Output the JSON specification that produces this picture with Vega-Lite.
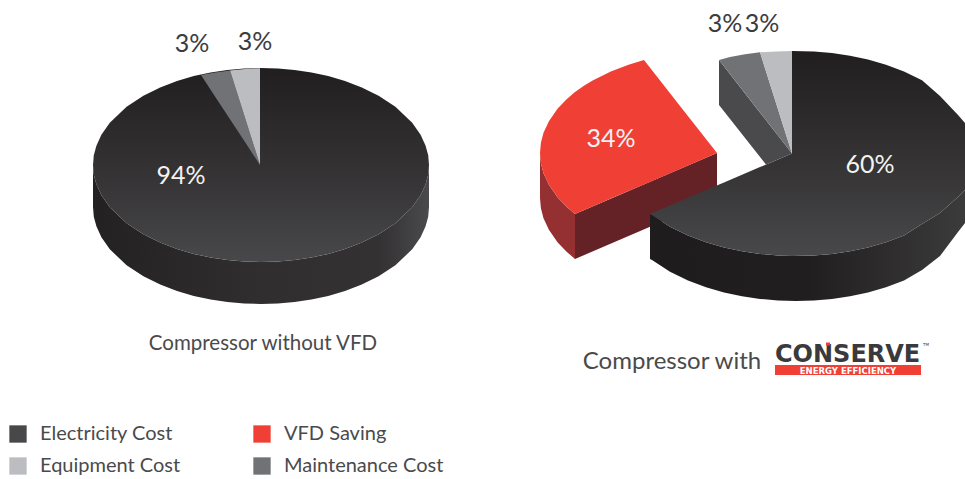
{
"$schema":"https://vega.github.io/schema/vega-lite/v6.json",
"width":965,"height":479,"padding":0,"autosize":{"type":"none"},
"background":"white","view":{"stroke":null},
"datasets":{
"outline":[
{"chart":"Without VFD","part":"top","series":"Electricity Cost","x":93,"y":165,"y2":165},{"chart":"Without VFD","part":"top","series":"Electricity Cost","x":93.8,"y":155.3,"y2":174.7},{"chart":"Without VFD","part":"top","series":"Electricity Cost","x":96.4,"y":145.7,"y2":184.3},{"chart":"Without VFD","part":"top","series":"Electricity Cost","x":101.4,"y":134.7,"y2":195.3},{"chart":"Without VFD","part":"top","series":"Electricity Cost","x":109.8,"y":122.7,"y2":207.3},{"chart":"Without VFD","part":"top","series":"Electricity Cost","x":126.6,"y":106.8,"y2":223.2},{"chart":"Without VFD","part":"top","series":"Electricity Cost","x":143.4,"y":95.7,"y2":234.3},{"chart":"Without VFD","part":"top","series":"Electricity Cost","x":160.2,"y":87.4,"y2":242.6},{"chart":"Without VFD","part":"top","series":"Electricity Cost","x":177,"y":81,"y2":249},{"chart":"Without VFD","part":"top","series":"Electricity Cost","x":193.8,"y":76.1,"y2":253.9},{"chart":"Without VFD","part":"top","series":"Electricity Cost","x":210.6,"y":72.5,"y2":257.5},{"chart":"Without VFD","part":"top","series":"Electricity Cost","x":227.4,"y":70,"y2":260},{"chart":"Without VFD","part":"top","series":"Electricity Cost","x":244.2,"y":68.5,"y2":261.5},{"chart":"Without VFD","part":"top","series":"Electricity Cost","x":261,"y":68,"y2":262},{"chart":"Without VFD","part":"top","series":"Electricity Cost","x":277.8,"y":68.5,"y2":261.5},{"chart":"Without VFD","part":"top","series":"Electricity Cost","x":294.6,"y":70,"y2":260},{"chart":"Without VFD","part":"top","series":"Electricity Cost","x":311.4,"y":72.5,"y2":257.5},{"chart":"Without VFD","part":"top","series":"Electricity Cost","x":328.2,"y":76.1,"y2":253.9},{"chart":"Without VFD","part":"top","series":"Electricity Cost","x":345,"y":81,"y2":249},{"chart":"Without VFD","part":"top","series":"Electricity Cost","x":361.8,"y":87.4,"y2":242.6},{"chart":"Without VFD","part":"top","series":"Electricity Cost","x":378.6,"y":95.7,"y2":234.3},{"chart":"Without VFD","part":"top","series":"Electricity Cost","x":395.4,"y":106.8,"y2":223.2},{"chart":"Without VFD","part":"top","series":"Electricity Cost","x":412.2,"y":122.7,"y2":207.3},{"chart":"Without VFD","part":"top","series":"Electricity Cost","x":420.6,"y":134.7,"y2":195.3},{"chart":"Without VFD","part":"top","series":"Electricity Cost","x":425.6,"y":145.7,"y2":184.3},{"chart":"Without VFD","part":"top","series":"Electricity Cost","x":428.2,"y":155.3,"y2":174.7},{"chart":"Without VFD","part":"top","series":"Electricity Cost","x":429,"y":165,"y2":165},
{"chart":"Without VFD","part":"side","series":"Electricity Cost","x":93,"y":165,"y2":207},{"chart":"Without VFD","part":"side","series":"Electricity Cost","x":93.8,"y":174.7,"y2":216.7},{"chart":"Without VFD","part":"side","series":"Electricity Cost","x":96.4,"y":184.3,"y2":226.3},{"chart":"Without VFD","part":"side","series":"Electricity Cost","x":101.4,"y":195.3,"y2":237.3},{"chart":"Without VFD","part":"side","series":"Electricity Cost","x":109.8,"y":207.3,"y2":249.3},{"chart":"Without VFD","part":"side","series":"Electricity Cost","x":126.6,"y":223.2,"y2":265.2},{"chart":"Without VFD","part":"side","series":"Electricity Cost","x":143.4,"y":234.3,"y2":276.3},{"chart":"Without VFD","part":"side","series":"Electricity Cost","x":160.2,"y":242.6,"y2":284.6},{"chart":"Without VFD","part":"side","series":"Electricity Cost","x":177,"y":249,"y2":291},{"chart":"Without VFD","part":"side","series":"Electricity Cost","x":193.8,"y":253.9,"y2":295.9},{"chart":"Without VFD","part":"side","series":"Electricity Cost","x":210.6,"y":257.5,"y2":299.5},{"chart":"Without VFD","part":"side","series":"Electricity Cost","x":227.4,"y":260,"y2":302},{"chart":"Without VFD","part":"side","series":"Electricity Cost","x":244.2,"y":261.5,"y2":303.5},{"chart":"Without VFD","part":"side","series":"Electricity Cost","x":261,"y":262,"y2":304},{"chart":"Without VFD","part":"side","series":"Electricity Cost","x":277.8,"y":261.5,"y2":303.5},{"chart":"Without VFD","part":"side","series":"Electricity Cost","x":294.6,"y":260,"y2":302},{"chart":"Without VFD","part":"side","series":"Electricity Cost","x":311.4,"y":257.5,"y2":299.5},{"chart":"Without VFD","part":"side","series":"Electricity Cost","x":328.2,"y":253.9,"y2":295.9},{"chart":"Without VFD","part":"side","series":"Electricity Cost","x":345,"y":249,"y2":291},{"chart":"Without VFD","part":"side","series":"Electricity Cost","x":361.8,"y":242.6,"y2":284.6},{"chart":"Without VFD","part":"side","series":"Electricity Cost","x":378.6,"y":234.3,"y2":276.3},{"chart":"Without VFD","part":"side","series":"Electricity Cost","x":395.4,"y":223.2,"y2":265.2},{"chart":"Without VFD","part":"side","series":"Electricity Cost","x":412.2,"y":207.3,"y2":249.3},{"chart":"Without VFD","part":"side","series":"Electricity Cost","x":420.6,"y":195.3,"y2":237.3},{"chart":"Without VFD","part":"side","series":"Electricity Cost","x":425.6,"y":184.3,"y2":226.3},{"chart":"Without VFD","part":"side","series":"Electricity Cost","x":428.2,"y":174.7,"y2":216.7},{"chart":"Without VFD","part":"side","series":"Electricity Cost","x":429,"y":165,"y2":207},
{"chart":"Without VFD","part":"wedge","series":"Maintenance Cost","x":201,"y":75,"y2":75},{"chart":"Without VFD","part":"wedge","series":"Maintenance Cost","x":215,"y":72.5,"y2":96.4},{"chart":"Without VFD","part":"wedge","series":"Maintenance Cost","x":230,"y":70.5,"y2":119.3},{"chart":"Without VFD","part":"wedge","series":"Maintenance Cost","x":245,"y":117.7,"y2":142.1},{"chart":"Without VFD","part":"wedge","series":"Maintenance Cost","x":260,"y":165,"y2":165},
{"chart":"Without VFD","part":"wedge","series":"Equipment Cost","x":230,"y":70.5,"y2":70.5},{"chart":"Without VFD","part":"wedge","series":"Equipment Cost","x":245,"y":69,"y2":117.7},{"chart":"Without VFD","part":"wedge","series":"Equipment Cost","x":260,"y":68.3,"y2":165},
{"chart":"With VFD","part":"top","series":"Electricity Cost","x":650,"y":214,"y2":214},{"chart":"With VFD","part":"top","series":"Electricity Cost","x":652,"y":213.1,"y2":215},{"chart":"With VFD","part":"top","series":"Electricity Cost","x":670,"y":205.5,"y2":226.7},{"chart":"With VFD","part":"top","series":"Electricity Cost","x":688,"y":197.8,"y2":235.5},{"chart":"With VFD","part":"top","series":"Electricity Cost","x":706,"y":190.1,"y2":242.3},{"chart":"With VFD","part":"top","series":"Electricity Cost","x":724,"y":182.5,"y2":247.5},{"chart":"With VFD","part":"top","series":"Electricity Cost","x":742,"y":174.8,"y2":251.3},{"chart":"With VFD","part":"top","series":"Electricity Cost","x":760,"y":167.1,"y2":253.9},{"chart":"With VFD","part":"top","series":"Electricity Cost","x":778,"y":159.5,"y2":255.5},{"chart":"With VFD","part":"top","series":"Electricity Cost","x":792,"y":153.5,"y2":256},{"chart":"With VFD","part":"top","series":"Electricity Cost","x":792,"y":51,"y2":256},{"chart":"With VFD","part":"top","series":"Electricity Cost","x":814,"y":51.5,"y2":255.5},{"chart":"With VFD","part":"top","series":"Electricity Cost","x":832,"y":53.1,"y2":253.9},{"chart":"With VFD","part":"top","series":"Electricity Cost","x":850,"y":55.7,"y2":251.3},{"chart":"With VFD","part":"top","series":"Electricity Cost","x":868,"y":59.5,"y2":247.5},{"chart":"With VFD","part":"top","series":"Electricity Cost","x":886,"y":64.7,"y2":242.3},{"chart":"With VFD","part":"top","series":"Electricity Cost","x":904,"y":71.5,"y2":235.5},{"chart":"With VFD","part":"top","series":"Electricity Cost","x":922,"y":80.3,"y2":224},{"chart":"With VFD","part":"top","series":"Electricity Cost","x":940,"y":96,"y2":213},{"chart":"With VFD","part":"top","series":"Electricity Cost","x":958,"y":115,"y2":197},{"chart":"With VFD","part":"top","series":"Electricity Cost","x":965,"y":123,"y2":190},
{"chart":"With VFD","part":"side","series":"Electricity Cost","x":650,"y":214,"y2":259},{"chart":"With VFD","part":"side","series":"Electricity Cost","x":652,"y":215,"y2":260},{"chart":"With VFD","part":"side","series":"Electricity Cost","x":670,"y":226.7,"y2":271.7},{"chart":"With VFD","part":"side","series":"Electricity Cost","x":688,"y":235.5,"y2":280.5},{"chart":"With VFD","part":"side","series":"Electricity Cost","x":706,"y":242.3,"y2":287.3},{"chart":"With VFD","part":"side","series":"Electricity Cost","x":724,"y":247.5,"y2":292.5},{"chart":"With VFD","part":"side","series":"Electricity Cost","x":742,"y":251.3,"y2":296.3},{"chart":"With VFD","part":"side","series":"Electricity Cost","x":760,"y":253.9,"y2":298.9},{"chart":"With VFD","part":"side","series":"Electricity Cost","x":778,"y":255.5,"y2":300.5},{"chart":"With VFD","part":"side","series":"Electricity Cost","x":796,"y":256,"y2":301},{"chart":"With VFD","part":"side","series":"Electricity Cost","x":814,"y":255.5,"y2":300.5},{"chart":"With VFD","part":"side","series":"Electricity Cost","x":832,"y":253.9,"y2":298.9},{"chart":"With VFD","part":"side","series":"Electricity Cost","x":850,"y":251.3,"y2":296.3},{"chart":"With VFD","part":"side","series":"Electricity Cost","x":868,"y":247.5,"y2":292.5},{"chart":"With VFD","part":"side","series":"Electricity Cost","x":886,"y":242.3,"y2":287.3},{"chart":"With VFD","part":"side","series":"Electricity Cost","x":904,"y":235.5,"y2":280.5},{"chart":"With VFD","part":"side","series":"Electricity Cost","x":922,"y":224,"y2":270},{"chart":"With VFD","part":"side","series":"Electricity Cost","x":940,"y":213,"y2":256},{"chart":"With VFD","part":"side","series":"Electricity Cost","x":958,"y":197,"y2":232},{"chart":"With VFD","part":"side","series":"Electricity Cost","x":965,"y":190,"y2":223},
{"chart":"With VFD","part":"wedge","series":"Maintenance Cost","x":719,"y":60,"y2":60},{"chart":"With VFD","part":"wedge","series":"Maintenance Cost","x":730,"y":57,"y2":74.1},{"chart":"With VFD","part":"wedge","series":"Maintenance Cost","x":745,"y":54.2,"y2":93.3},{"chart":"With VFD","part":"wedge","series":"Maintenance Cost","x":760,"y":52.3,"y2":112.5},{"chart":"With VFD","part":"wedge","series":"Maintenance Cost","x":792,"y":153.5,"y2":153.5},
{"chart":"With VFD","part":"wedge","series":"Equipment Cost","x":760,"y":52.3,"y2":52.3},{"chart":"With VFD","part":"wedge","series":"Equipment Cost","x":776,"y":51.4,"y2":102.9},{"chart":"With VFD","part":"wedge","series":"Equipment Cost","x":792,"y":51,"y2":153.5},
{"chart":"With VFD","part":"wall","series":"Maintenance Cost","x":719,"y":60,"y2":105},{"chart":"With VFD","part":"wall","series":"Maintenance Cost","x":766,"y":120.2,"y2":164.6},{"chart":"With VFD","part":"wall","series":"Maintenance Cost","x":792,"y":153.5,"y2":153.5},
{"chart":"With VFD","part":"wedge","series":"VFD Saving","x":540,"y":153,"y2":153},{"chart":"With VFD","part":"wedge","series":"VFD Saving","x":540.9,"y":142.8,"y2":163.2},{"chart":"With VFD","part":"wedge","series":"VFD Saving","x":543.5,"y":132.7,"y2":173.3},{"chart":"With VFD","part":"wedge","series":"VFD Saving","x":548.9,"y":121.2,"y2":184.8},{"chart":"With VFD","part":"wedge","series":"VFD Saving","x":557.7,"y":108.5,"y2":197.5},{"chart":"With VFD","part":"wedge","series":"VFD Saving","x":566.6,"y":99.3,"y2":206.7},{"chart":"With VFD","part":"wedge","series":"VFD Saving","x":575,"y":92,"y2":214},{"chart":"With VFD","part":"wedge","series":"VFD Saving","x":584.3,"y":85.5,"y2":210},{"chart":"With VFD","part":"wedge","series":"VFD Saving","x":593.1,"y":80.2,"y2":206.3},{"chart":"With VFD","part":"wedge","series":"VFD Saving","x":610.8,"y":71.4,"y2":198.6},{"chart":"With VFD","part":"wedge","series":"VFD Saving","x":628.5,"y":64.7,"y2":191},{"chart":"With VFD","part":"wedge","series":"VFD Saving","x":644,"y":60,"y2":184.4},{"chart":"With VFD","part":"wedge","series":"VFD Saving","x":680,"y":105.9,"y2":168.9},{"chart":"With VFD","part":"wedge","series":"VFD Saving","x":717,"y":153,"y2":153},
{"chart":"With VFD","part":"arcside","series":"VFD Saving","x":540,"y":153,"y2":198},{"chart":"With VFD","part":"arcside","series":"VFD Saving","x":540.9,"y":163.2,"y2":208.2},{"chart":"With VFD","part":"arcside","series":"VFD Saving","x":543.5,"y":173.3,"y2":218.3},{"chart":"With VFD","part":"arcside","series":"VFD Saving","x":548.9,"y":184.8,"y2":229.8},{"chart":"With VFD","part":"arcside","series":"VFD Saving","x":557.7,"y":197.5,"y2":242.5},{"chart":"With VFD","part":"arcside","series":"VFD Saving","x":566.6,"y":206.7,"y2":251.7},{"chart":"With VFD","part":"arcside","series":"VFD Saving","x":575,"y":214,"y2":259},
{"chart":"With VFD","part":"cutside","series":"VFD Saving","x":575,"y":214,"y2":259},{"chart":"With VFD","part":"cutside","series":"VFD Saving","x":717,"y":153,"y2":198}
],
"labels":[
{"chart":"Without VFD","series":"Maintenance Cost","value":0.03,"x":192,"y":44,"tone":"dark"},
{"chart":"Without VFD","series":"Equipment Cost","value":0.03,"x":255,"y":42,"tone":"dark"},
{"chart":"Without VFD","series":"Electricity Cost","value":0.94,"x":181,"y":176,"tone":"light"},
{"chart":"With VFD","series":"Maintenance Cost","value":0.03,"x":725,"y":24,"tone":"dark"},
{"chart":"With VFD","series":"Equipment Cost","value":0.03,"x":762,"y":24,"tone":"dark"},
{"chart":"With VFD","series":"VFD Saving","value":0.34,"x":611,"y":139,"tone":"light"},
{"chart":"With VFD","series":"Electricity Cost","value":0.6,"x":870,"y":165,"tone":"light"}
],
"logo":[{"x":775,"x2":921,"y":365,"y2":375},{"x":826,"x2":830,"y":342.5,"y2":345.5}]
},
"layer":[
{"data":{"name":"outline"},"transform":[{"filter":"datum.part==='arcside'"}],"mark":{"type":"area","orient":"vertical","color":"#943031"},"encoding":{"x":{"field":"x","type":"quantitative","scale":{"domain":[0,965],"nice":false,"zero":false},"axis":null},"y":{"field":"y","type":"quantitative","stack":null,"scale":{"domain":[479,0],"nice":false,"zero":false},"axis":null},"y2":{"field":"y2"}}},
{"data":{"name":"outline"},"transform":[{"filter":"datum.part==='cutside'"}],"mark":{"type":"area","orient":"vertical","color":"#642227"},"encoding":{"x":{"field":"x","type":"quantitative"},"y":{"field":"y","type":"quantitative","stack":null},"y2":{"field":"y2"}}},
{"data":{"name":"outline"},"transform":[{"filter":"datum.part==='wall'"}],"mark":{"type":"area","orient":"vertical","color":"#4a4a4c"},"encoding":{"x":{"field":"x","type":"quantitative"},"y":{"field":"y","type":"quantitative","stack":null},"y2":{"field":"y2"}}},
{"data":{"name":"outline"},"transform":[{"filter":"datum.part==='side' && datum.chart==='Without VFD'"}],"mark":{"type":"area","orient":"vertical","color":{"gradient":"linear","x1":0,"y1":0,"x2":1,"y2":0,"stops":[{"offset":0,"color":"#232122"},{"offset":0.5,"color":"#302e2f"},{"offset":0.85,"color":"#333132"},{"offset":1,"color":"#4a4a4c"}]}},"encoding":{"x":{"field":"x","type":"quantitative"},"y":{"field":"y","type":"quantitative","stack":null},"y2":{"field":"y2"}}},
{"data":{"name":"outline"},"transform":[{"filter":"datum.part==='side' && datum.chart==='With VFD'"}],"mark":{"type":"area","orient":"vertical","color":{"gradient":"linear","x1":0,"y1":0,"x2":1,"y2":0,"stops":[{"offset":0,"color":"#1e1c1d"},{"offset":0.5,"color":"#201e1f"},{"offset":1,"color":"#3c3b3c"}]}},"encoding":{"x":{"field":"x","type":"quantitative"},"y":{"field":"y","type":"quantitative","stack":null},"y2":{"field":"y2"}}},
{"data":{"name":"outline"},"transform":[{"filter":"datum.part==='top'"}],"mark":{"type":"area","orient":"vertical","color":{"gradient":"linear","x1":0,"y1":0,"x2":0,"y2":1,"stops":[{"offset":0,"color":"#201e1f"},{"offset":0.55,"color":"#353334"},{"offset":1,"color":"#48484a"}]}},"encoding":{"x":{"field":"x","type":"quantitative"},"y":{"field":"y","type":"quantitative","stack":null},"y2":{"field":"y2"},"detail":{"field":"chart"}}},
{"data":{"name":"outline"},"transform":[{"filter":"datum.part==='wedge'"}],"mark":{"type":"area","orient":"vertical"},"encoding":{"x":{"field":"x","type":"quantitative"},"y":{"field":"y","type":"quantitative","stack":null},"y2":{"field":"y2"},"detail":{"field":"chart"},"color":{"field":"series","type":"nominal","scale":{"domain":["Electricity Cost","Equipment Cost","VFD Saving","Maintenance Cost"],"range":["#48484a","#bcbdc0","#f04036","#717276"]},"legend":{"title":null,"orient":"none","legendX":8,"legendY":424,"columns":2,"columnPadding":71,"rowPadding":12,"padding":0,"symbolType":"square","symbolSize":300,"symbolStrokeWidth":0,"symbolOpacity":1,"labelFont":"Lato","labelFontSize":20,"labelColor":"#4a4a4c","labelOffset":12,"labelLimit":300}}}},
{"data":{"name":"labels"},"transform":[{"filter":"datum.tone==='dark'"}],"mark":{"type":"text","font":"Lato","fontSize":25,"color":"#3c3c3e","baseline":"middle"},"encoding":{"x":{"field":"x","type":"quantitative"},"y":{"field":"y","type":"quantitative"},"text":{"field":"value","type":"quantitative","format":".0%"}}},
{"data":{"name":"labels"},"transform":[{"filter":"datum.tone==='light'"}],"mark":{"type":"text","font":"Lato","fontSize":25,"color":"#f2f2f2","baseline":"middle"},"encoding":{"x":{"field":"x","type":"quantitative"},"y":{"field":"y","type":"quantitative"},"text":{"field":"value","type":"quantitative","format":".0%"}}},
{"data":{"values":[{"x":263,"y":343.5,"t":"Compressor without VFD"}]},"mark":{"type":"text","font":"Lato","fontSize":20.5,"color":"#4a4a4c","baseline":"middle"},"encoding":{"x":{"field":"x","type":"quantitative"},"y":{"field":"y","type":"quantitative"},"text":{"field":"t"}}},
{"data":{"values":[{"x":672,"y":362,"t":"Compressor with"}]},"mark":{"type":"text","font":"Lato","fontSize":24,"color":"#4a4a4c","baseline":"middle"},"encoding":{"x":{"field":"x","type":"quantitative"},"y":{"field":"y","type":"quantitative"},"text":{"field":"t"}}},
{"data":{"values":[{"x":775,"y":362,"t":"CONSERVE"}]},"mark":{"type":"text","font":"DejaVu Sans","fontWeight":"bold","fontSize":24,"color":"#3a3a3c","align":"left","baseline":"alphabetic"},"encoding":{"x":{"field":"x","type":"quantitative"},"y":{"field":"y","type":"quantitative"},"text":{"field":"t"}}},
{"data":{"values":[{"x":923,"y":346,"t":"TM"}]},"mark":{"type":"text","font":"DejaVu Sans","fontSize":4,"color":"#3a3a3c","align":"left","baseline":"alphabetic"},"encoding":{"x":{"field":"x","type":"quantitative"},"y":{"field":"y","type":"quantitative"},"text":{"field":"t"}}},
{"data":{"name":"logo"},"mark":{"type":"rect","color":"#f04036"},"encoding":{"x":{"field":"x","type":"quantitative"},"x2":{"field":"x2"},"y":{"field":"y","type":"quantitative"},"y2":{"field":"y2"}}},
{"data":{"values":[{"x":848,"y":370.5,"t":"ENERGY EFFICIENCY"}]},"mark":{"type":"text","font":"DejaVu Sans","fontWeight":"bold","fontSize":8.5,"color":"#ffffff","baseline":"middle"},"encoding":{"x":{"field":"x","type":"quantitative"},"y":{"field":"y","type":"quantitative"},"text":{"field":"t"}}}
]
}
